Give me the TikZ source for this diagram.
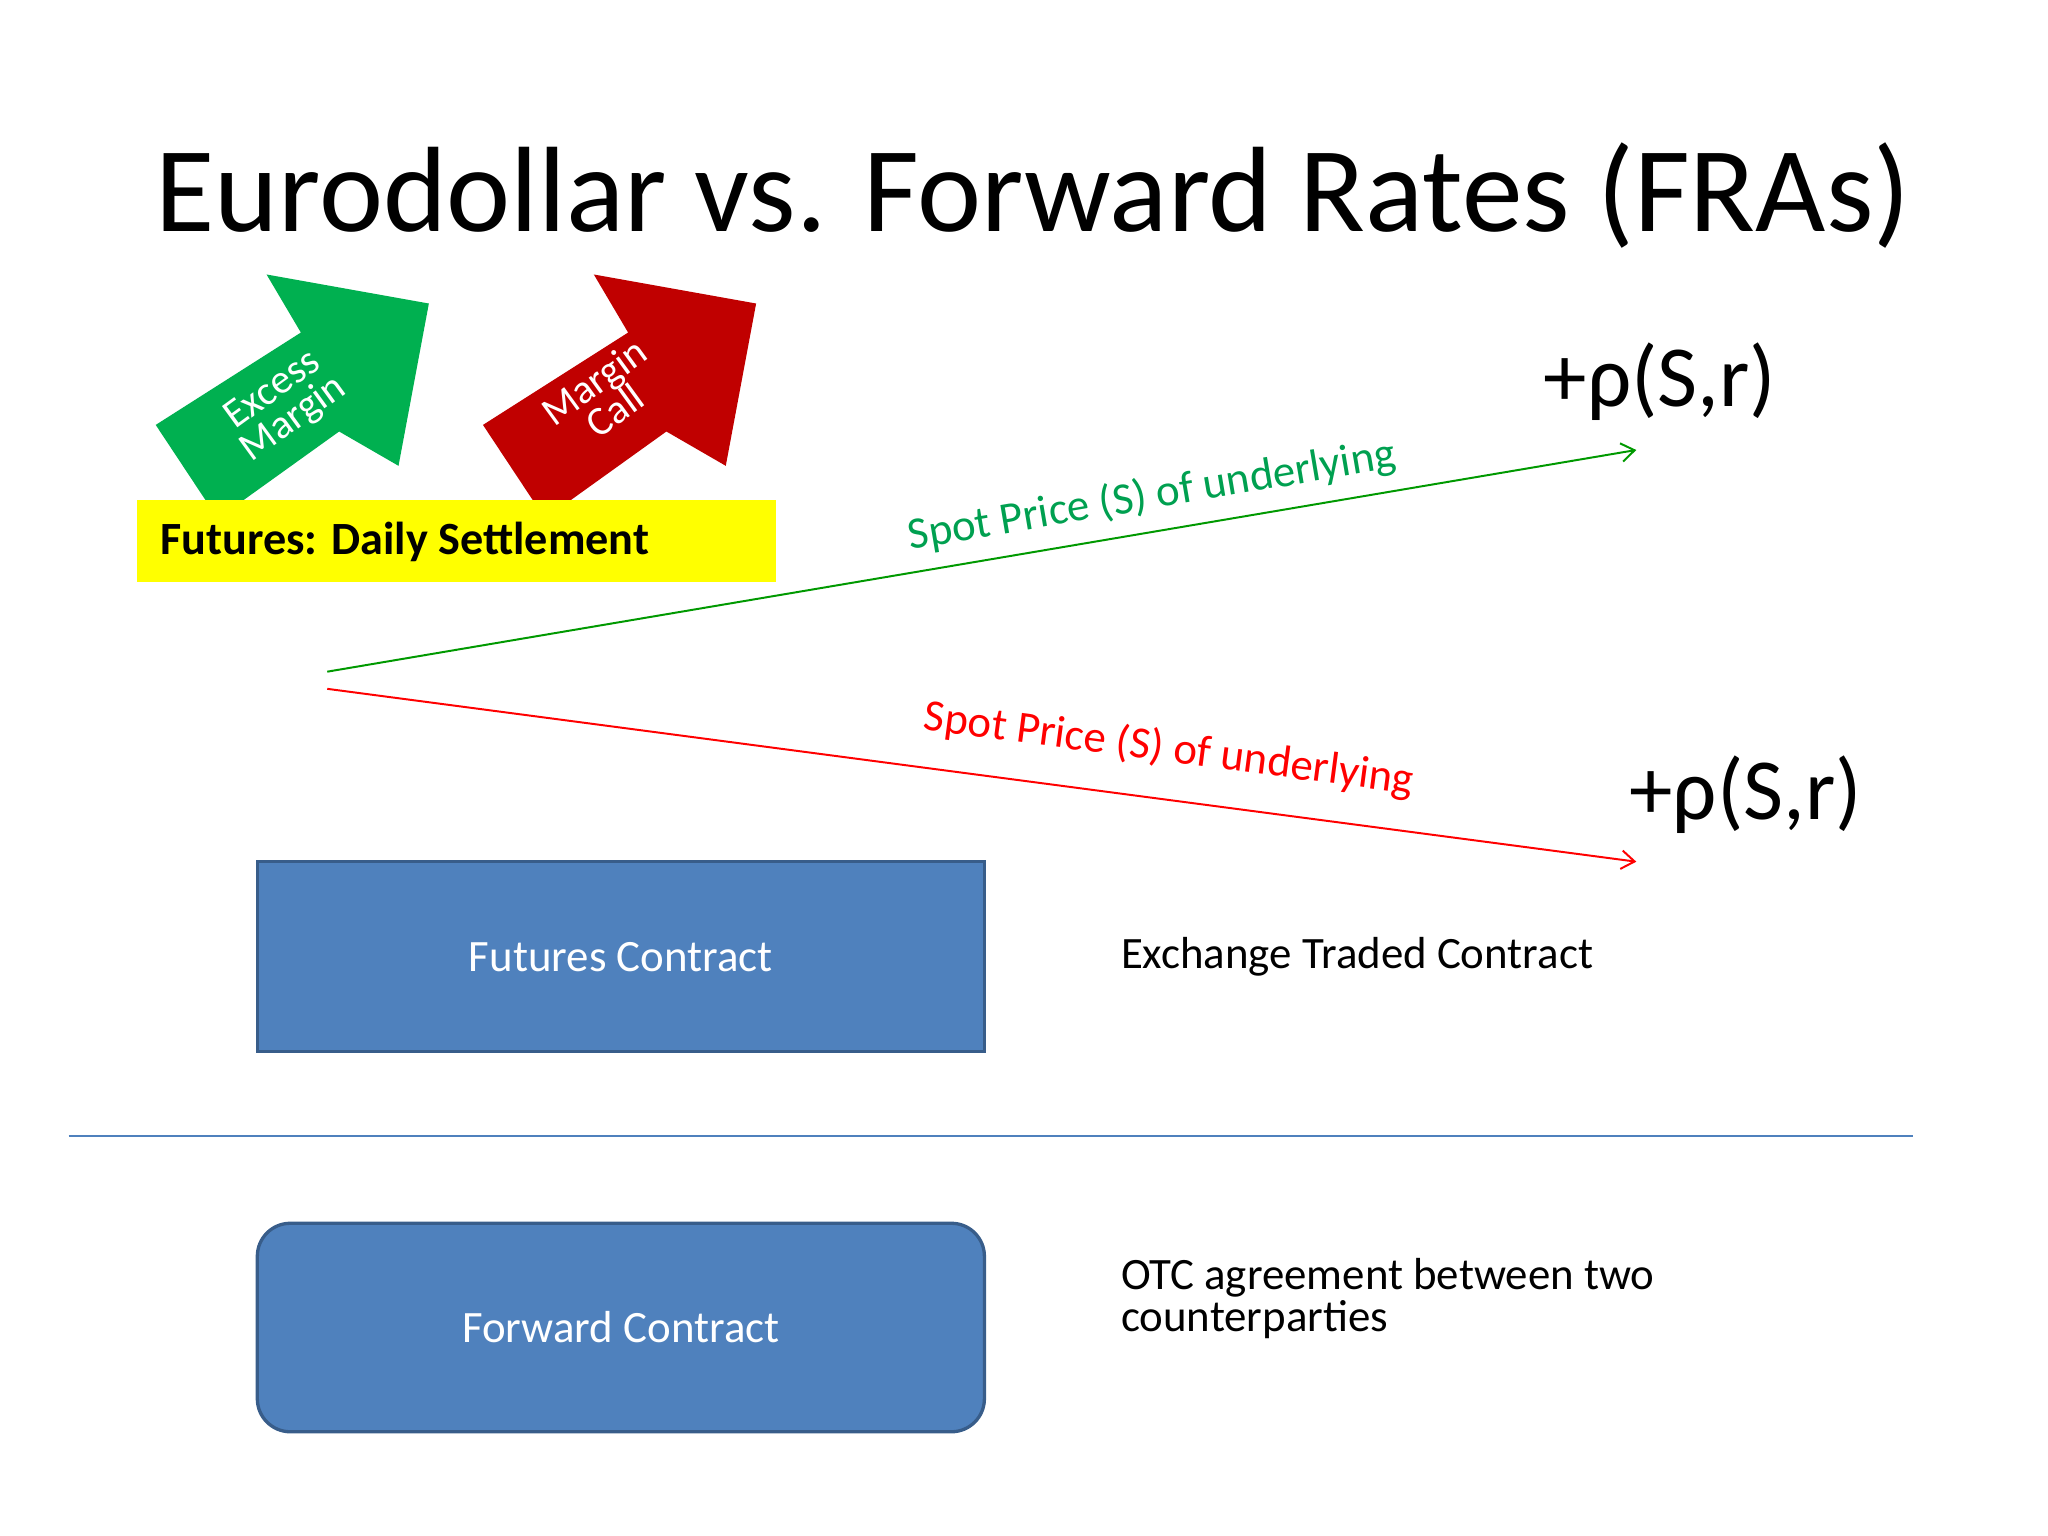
\documentclass[tikz,border=0pt]{standalone}
\usepackage{fontspec}
\usetikzlibrary{arrows.meta}
\setmainfont{Carlito}
\definecolor{bluef}{HTML}{4F81BD}
\definecolor{blued}{HTML}{385D8A}
\definecolor{gr}{HTML}{00B050}
\definecolor{rd}{HTML}{C00000}
\definecolor{yl}{HTML}{FFFF00}
\definecolor{lgr}{HTML}{00A050}
\tikzset{fs/.style={font=\fontsize{#1}{#1}\selectfont},
 boxsty/.style={fill=bluef,draw=blued,line width=2.5pt,text=white,minimum width=551pt,inner sep=0pt},
 arrowtxt/.style={text=white,align=center,fs=31}}
\begin{document}
\begin{tikzpicture}[x=1pt,y=-1pt]
\useasboundingbox (0,0) rectangle (1552,1164);
\node[fs=92] (title) at (783,148) {Eurodollar vs. Forward Rates (FRAs)};
% arrows
\fill[gr] (118,322) -- (165,393) -- (257,327) -- (302,353) -- (325,230) -- (202,208) -- (228,252) -- cycle;
\node[arrowtxt,rotate=36] (ex) at (215,307) {Excess\\[-4pt]Margin};
\fill[rd] (366,322) -- (413,393) -- (505,327) -- (550,353) -- (573,230) -- (450,208) -- (476,252) -- cycle;
\node[arrowtxt,rotate=36] (mc) at (458,300) {Margin\\[-4pt]Call};
\fill[yl] (104,379) rectangle (588,441);
\node[fs=35,font=\bfseries\fontsize{35}{35}\selectfont,anchor=west] (ds) at (118,411) {Futures: Daily Settlement};
% lines
\coordinate (o1) at (248,509); \coordinate (e1) at (1240,341);
\coordinate (o2) at (248,522); \coordinate (e2) at (1240,653);
\draw[green!60!black,line width=1.5pt,-{Straight Barb[length=10pt,width=14pt]}] (o1) -- (e1);
\draw[red,line width=1.5pt,-{Straight Barb[length=10pt,width=14pt]}] (o2) -- (e2);
\node[fs=34,text=lgr,rotate=9.6] (l1) at (873,376) {Spot Price (S) of underlying};
\node[fs=34,text=red,rotate=-7.5] (l2) at (886,568) {Spot Price (S) of underlying};
\node[fs=66] (r1) at (1258,289) {+ρ(S,r)};
\node[fs=66] (r2) at (1323,602) {+ρ(S,r)};
% boxes
\node[boxsty,minimum height=144pt,fs=34] (fut) at (470.5,725) {Futures Contract};
\node[boxsty,minimum height=158pt,rounded corners=25pt,fs=34] (fwd) at (470.5,1006) {Forward Contract};
\draw[bluef,line width=1.5pt] (52,861) coordinate (s1) -- (1450,861) coordinate (s2);
\node[fs=34,anchor=west] (ex1) at (846,725) {Exchange Traded Contract};
\node[fs=34,anchor=west,align=left] (ex2) at (846,984) {OTC agreement between two\\[-2pt]counterparties};
\end{tikzpicture}
\end{document}
